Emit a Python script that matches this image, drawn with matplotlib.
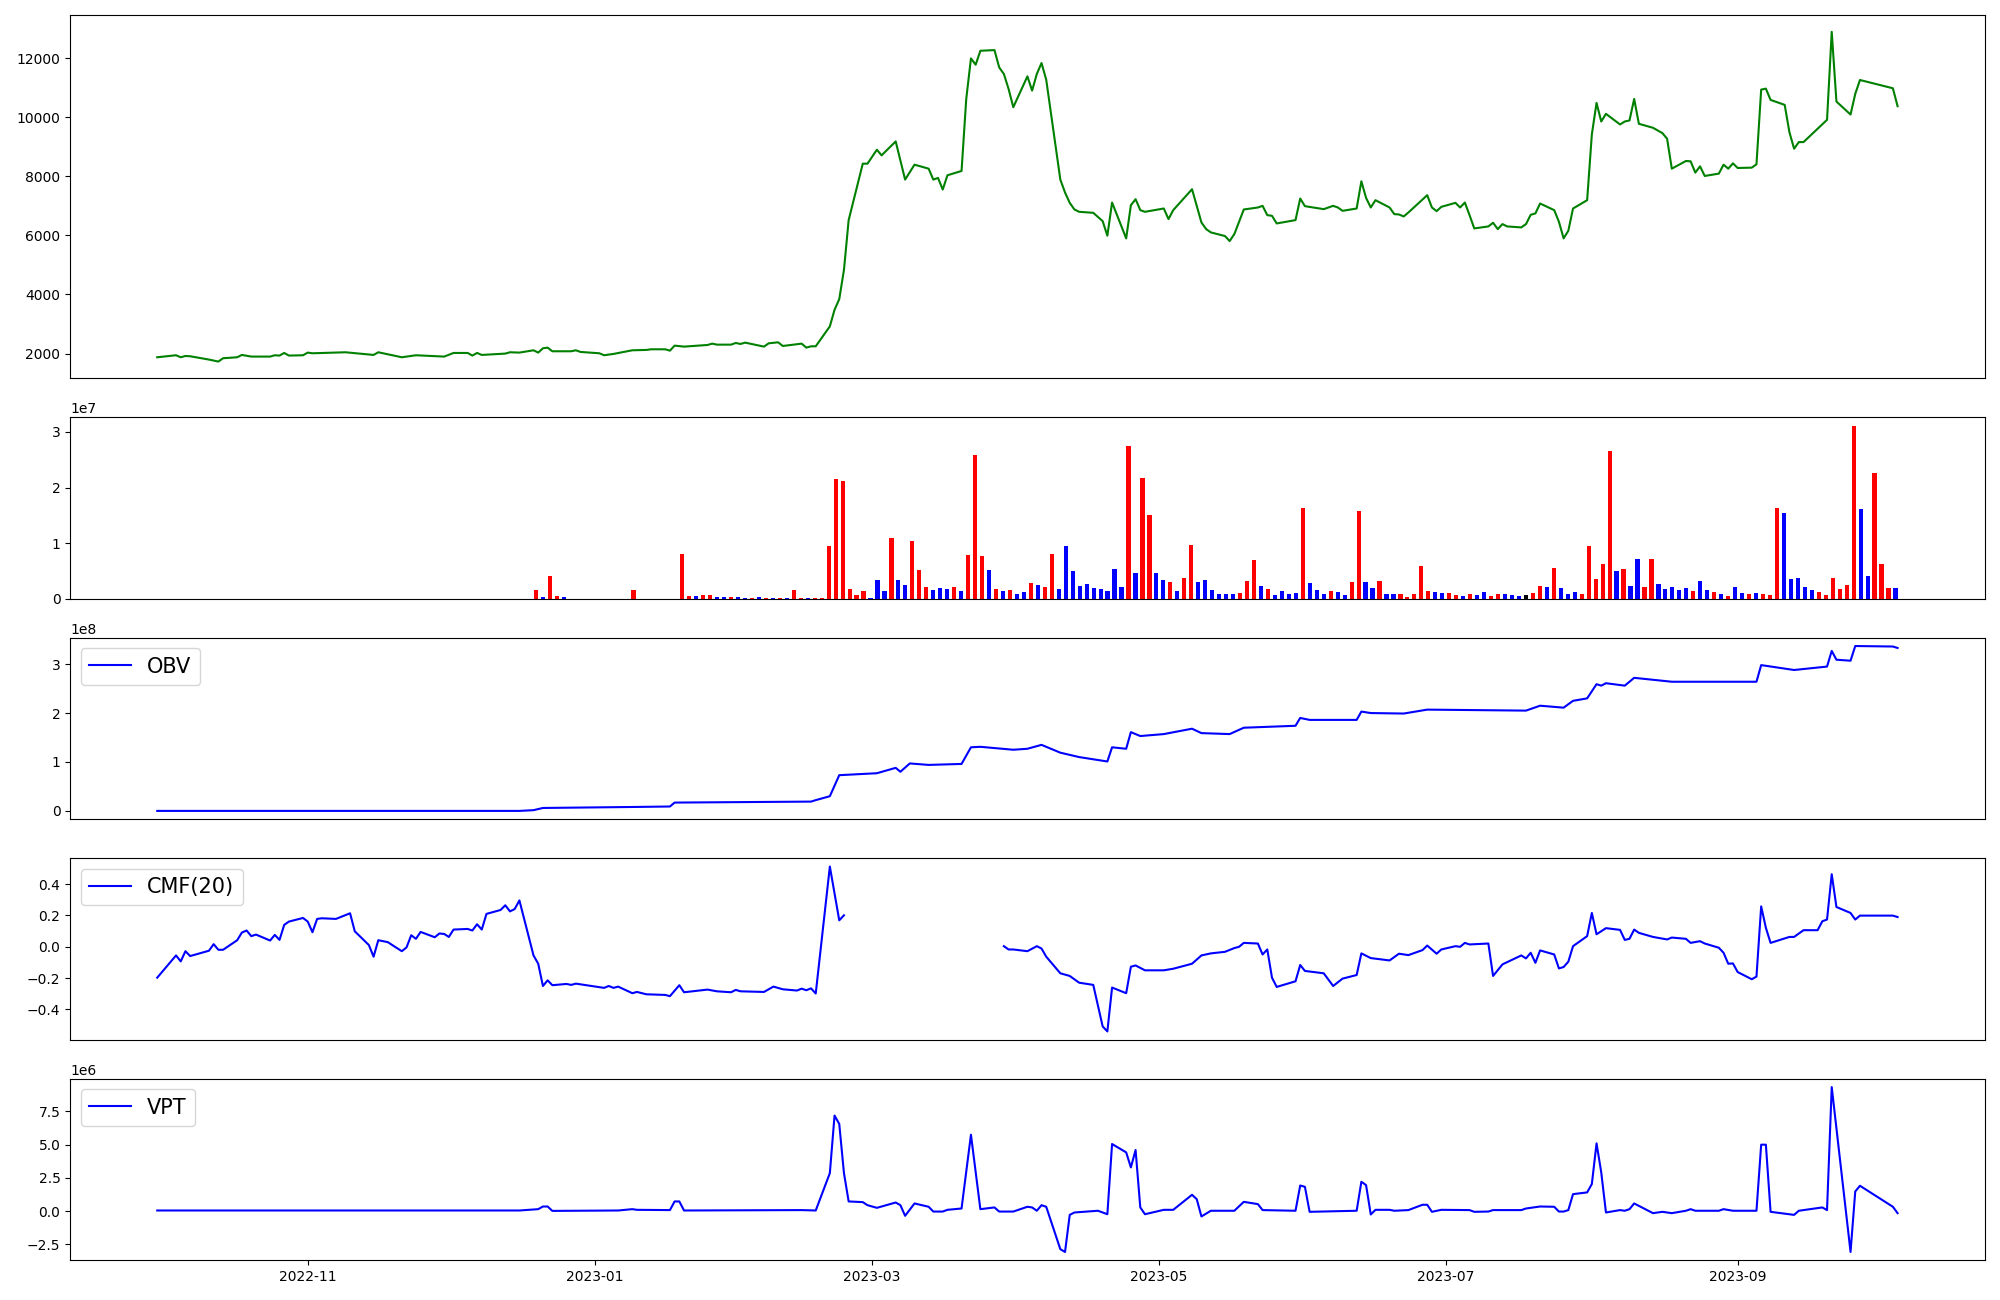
import numpy as np
import pandas as pd
import matplotlib
matplotlib.use("Agg")
import matplotlib.pyplot as plt

# ---------------- data ----------------
price_dates = [
    "2022-09-30", "2022-10-04", "2022-10-05", "2022-10-06", "2022-10-07", "2022-10-11", "2022-10-13",
    "2022-10-14", "2022-10-17", "2022-10-18", "2022-10-20", "2022-10-24", "2022-10-25", "2022-10-26",
    "2022-10-27", "2022-10-28", "2022-10-31", "2022-11-01", "2022-11-02", "2022-11-09", "2022-11-15",
    "2022-11-16", "2022-11-21", "2022-11-24", "2022-11-30", "2022-12-02", "2022-12-05", "2022-12-06",
    "2022-12-07", "2022-12-08", "2022-12-13", "2022-12-14", "2022-12-16", "2022-12-19", "2022-12-20",
    "2022-12-21", "2022-12-22", "2022-12-23", "2022-12-27", "2022-12-28", "2022-12-29", "2023-01-02",
    "2023-01-03", "2023-01-05", "2023-01-09", "2023-01-12", "2023-01-13", "2023-01-16", "2023-01-17",
    "2023-01-18", "2023-01-20", "2023-01-25", "2023-01-26", "2023-01-27", "2023-01-30", "2023-01-31",
    "2023-02-01", "2023-02-02", "2023-02-06", "2023-02-07", "2023-02-09", "2023-02-10", "2023-02-14",
    "2023-02-15", "2023-02-16", "2023-02-17", "2023-02-20", "2023-02-21", "2023-02-22", "2023-02-23",
    "2023-02-24", "2023-02-27", "2023-02-28", "2023-03-02", "2023-03-03", "2023-03-06", "2023-03-08",
    "2023-03-10", "2023-03-13", "2023-03-14", "2023-03-15", "2023-03-16", "2023-03-17", "2023-03-20",
    "2023-03-21", "2023-03-22", "2023-03-23", "2023-03-24", "2023-03-27", "2023-03-28", "2023-03-29",
    "2023-03-30", "2023-03-31", "2023-04-03", "2023-04-04", "2023-04-05", "2023-04-06", "2023-04-07",
    "2023-04-10", "2023-04-11", "2023-04-12", "2023-04-13", "2023-04-14", "2023-04-17", "2023-04-19",
    "2023-04-20", "2023-04-21", "2023-04-24", "2023-04-25", "2023-04-26", "2023-04-27", "2023-04-28",
    "2023-05-02", "2023-05-03", "2023-05-04", "2023-05-08", "2023-05-10", "2023-05-11", "2023-05-12",
    "2023-05-15", "2023-05-16", "2023-05-17", "2023-05-19", "2023-05-22", "2023-05-23", "2023-05-24",
    "2023-05-25", "2023-05-26", "2023-05-30", "2023-05-31", "2023-06-01", "2023-06-05", "2023-06-07",
    "2023-06-08", "2023-06-09", "2023-06-12", "2023-06-13", "2023-06-14", "2023-06-15", "2023-06-16",
    "2023-06-19", "2023-06-20", "2023-06-21", "2023-06-22", "2023-06-23", "2023-06-27", "2023-06-28",
    "2023-06-29", "2023-06-30", "2023-07-03", "2023-07-04", "2023-07-05", "2023-07-06", "2023-07-07",
    "2023-07-10", "2023-07-11", "2023-07-12", "2023-07-13", "2023-07-14", "2023-07-17", "2023-07-18",
    "2023-07-19", "2023-07-20", "2023-07-21", "2023-07-24", "2023-07-25", "2023-07-26", "2023-07-27",
    "2023-07-28", "2023-07-31", "2023-08-01", "2023-08-02", "2023-08-03", "2023-08-04", "2023-08-07",
    "2023-08-08", "2023-08-09", "2023-08-10", "2023-08-11", "2023-08-14", "2023-08-16", "2023-08-17",
    "2023-08-18", "2023-08-21", "2023-08-22", "2023-08-23", "2023-08-24", "2023-08-25", "2023-08-28",
    "2023-08-29", "2023-08-30", "2023-08-31", "2023-09-01", "2023-09-04", "2023-09-05", "2023-09-06",
    "2023-09-07", "2023-09-08", "2023-09-11", "2023-09-12", "2023-09-13", "2023-09-14", "2023-09-15",
    "2023-09-20", "2023-09-21", "2023-09-22", "2023-09-25", "2023-09-26", "2023-09-27", "2023-10-04",
    "2023-10-05",
]
price_close = [
    1876, 1944, 1876, 1920, 1910, 1798, 1730,
    1843, 1876, 1955, 1899, 1899, 1944, 1933,
    2022, 1933, 1944, 2034, 2011, 2045, 1955,
    2045, 1876, 1944, 1899, 2022, 2022, 1933,
    2022, 1955, 2000, 2045, 2034, 2112, 2034,
    2180, 2202, 2079, 2079, 2112, 2056, 2011,
    1944, 1989, 2112, 2124, 2146, 2146, 2100,
    2270, 2236, 2292, 2337, 2303, 2303, 2360,
    2326, 2371, 2236, 2348, 2382, 2258, 2337,
    2202, 2247, 2247, 2921, 3483, 3843, 4831,
    6517, 8427, 8427, 8899, 8708, 9180, 7888,
    8393, 8258, 7888, 7944, 7551, 8034, 8180,
    10618, 11989, 11775, 12247, 12270, 11685, 11461,
    10955, 10337, 11382, 10899, 11461, 11832, 11270,
    7888, 7450, 7101, 6876, 6798, 6764, 6483,
    5989, 7112, 5899, 7022, 7225, 6854, 6798,
    6910, 6551, 6854, 7562, 6438, 6213, 6101,
    5978, 5809, 6045, 6876, 6944, 7000, 6685,
    6663, 6404, 6517, 7247, 6989, 6888, 7000,
    6944, 6831, 6910, 7831, 7270, 6944, 7191,
    6944, 6719, 6708, 6640, 6775, 7360, 6944,
    6820, 6966, 7101, 6944, 7112, 6685, 6236,
    6303, 6427, 6213, 6382, 6303, 6270, 6382,
    6697, 6742, 7079, 6854, 6461, 5899, 6157,
    6910, 7191, 9416, 10483, 9854, 10113, 9753,
    9854, 9888, 10618, 9776, 9641, 9461, 9270,
    8258, 8517, 8506, 8124, 8337, 8011, 8090,
    8393, 8258, 8438, 8281, 8292, 8405, 10933,
    10966, 10584, 10416, 9494, 8933, 9157, 9157,
    9910, 12888, 10528, 10090, 10787, 11258, 10978,
    10371,
]

# daily volume (millions of shares), one value per trading session, 2022-09-30 .. 2023-10-05
volume_millions = [
    # 2022-09-30 .. 2022-12-16 : no visible volume (54 sessions)
    0.0, 0.0, 0.0, 0.0, 0.0, 0.0, 0.0, 0.0, 0.0, 0.0,
    0.0, 0.0, 0.0, 0.0, 0.0, 0.0, 0.0, 0.0, 0.0, 0.0,
    0.0, 0.0, 0.0, 0.0, 0.0, 0.0, 0.0, 0.0, 0.0, 0.0,
    0.0, 0.0, 0.0, 0.0, 0.0, 0.0, 0.0, 0.0, 0.0, 0.0,
    0.0, 0.0, 0.0, 0.0, 0.0, 0.0, 0.0, 0.0, 0.0, 0.0,
    0.0, 0.0, 0.0, 0.0,
    # Dec
    1.5, 0.2, 4.0, 0.42, 0.2, 0.0, 0.0, 0.0, 0.0,
    # Jan
    0.0, 0.0, 0.0, 0.0, 0.0, 1.5, 0.0, 0.0, 0.0, 0.0, 0.0, 0.0, 8.0, 0.4, 0.4, 0.6, 0.6, 0.25, 0.25, 0.25,
    # Feb
    0.25, 0.1, 0.1, 0.2, 0.05, 0.05, 0.05, 0.05, 1.5, 0.1, 0.1, 0.05, 0.1, 9.4, 21.6, 21.1, 1.7, 0.6, 1.3, 0.1,
    # Mar
    3.3, 1.3, 11.0, 3.3, 2.4, 10.3, 5.1, 2.0, 1.5, 1.9, 1.7, 2.0, 1.3, 7.8, 25.9, 7.6, 5.1, 1.7, 1.3, 1.5, 0.8, 1.1,
    # Apr
    2.8, 2.4, 2.0, 8.0, 1.7, 9.4, 4.9, 2.2, 2.6, 1.9, 1.7, 1.3, 5.3, 2.0, 27.5, 4.7, 21.8, 15.1, 4.7, 3.3,
    # May
    2.9, 1.3, 3.7, 9.6, 2.9, 3.3, 1.5, 0.8, 0.8, 0.8, 1.0, 3.1, 6.9, 2.2, 1.7, 0.6, 1.3, 0.8, 1.0, 16.4,
    # Jun
    2.8, 1.5, 0.8, 1.3, 1.1, 0.6, 2.9, 15.7, 2.9, 1.9, 3.1, 0.8, 0.8, 0.8, 0.2, 0.8, 5.8, 1.3, 1.1, 1.0, 1.0,
    # Jul
    0.6, 0.4, 0.8, 0.6, 1.1, 0.4, 0.8, 0.8, 0.6, 0.4, 0.6, 1.0, 2.2, 2.0, 5.6, 1.9, 0.8, 1.1, 0.8, 9.4, 3.5,
    # Aug
    6.3, 26.6, 4.9, 5.3, 2.2, 7.1, 2.0, 7.1, 2.6, 1.7, 2.0, 1.5, 1.9, 1.3, 3.1, 1.5, 1.1, 0.8, 0.4, 2.0, 1.0, 0.8,
    # Sep
    1.0, 0.8, 0.6, 16.4, 15.5, 3.5, 3.7, 2.0, 1.5, 1.1, 0.6, 3.8, 1.7, 2.4, 31.1, 16.2, 4.0, 22.7, 6.3,
    # Oct
    1.9, 1.9,
]
# u = up day, d = down day, n = unchanged
volume_direction_by_month = [
    "n " * 54,
    "u d u u d n n n n",
    "n n n n n u n n n n n n u u d u u d d u",
    "d d u d u d u d u u d u u u u u u u u d",
    "d d u d d u u u d d d u d u u u d u d u d d",
    "u d u u d d d d d d d d d d u d u u d d",
    "u d u u d d d d d d u u u d u d d d d u",
    "d d d u d d u u d d u d d u u u u u d d u",
    "u d u d d u u d d d n u u d u d d d u u u",
    "u u d u d d u u d d d d d u d d u d u d d u",
    "d u u u d d d d d u u u u u u d d u u",
    "u d",
]

obv_dates = [
    "2022-09-30", "2022-12-16", "2022-12-19", "2022-12-21", "2023-01-09", "2023-01-17", "2023-01-18",
    "2023-02-16", "2023-02-17", "2023-02-20", "2023-02-22", "2023-02-24", "2023-03-02", "2023-03-06",
    "2023-03-07", "2023-03-09", "2023-03-13", "2023-03-20", "2023-03-22", "2023-03-24", "2023-03-31",
    "2023-04-03", "2023-04-06", "2023-04-10", "2023-04-14", "2023-04-20", "2023-04-21", "2023-04-24",
    "2023-04-25", "2023-04-27", "2023-05-02", "2023-05-08", "2023-05-10", "2023-05-16", "2023-05-19",
    "2023-05-30", "2023-05-31", "2023-06-02", "2023-06-12", "2023-06-13", "2023-06-15", "2023-06-22",
    "2023-06-27", "2023-07-18", "2023-07-21", "2023-07-26", "2023-07-28", "2023-07-31", "2023-08-02",
    "2023-08-03", "2023-08-04", "2023-08-08", "2023-08-10", "2023-08-18", "2023-09-05", "2023-09-06",
    "2023-09-13", "2023-09-20", "2023-09-21", "2023-09-22", "2023-09-25", "2023-09-26", "2023-10-04",
    "2023-10-05",
]
obv_values = [  # x 1e8
    0.0, 0.0, 0.015, 0.06, 0.08, 0.09, 0.17,
    0.19, 0.22, 0.30, 0.73, 0.74, 0.77, 0.88,
    0.80, 0.97, 0.94, 0.96, 1.30, 1.31, 1.25,
    1.27, 1.35, 1.19, 1.10, 1.01, 1.30, 1.27,
    1.61, 1.53, 1.57, 1.68, 1.59, 1.57, 1.70,
    1.74, 1.90, 1.86, 1.86, 2.03, 2.00, 1.99,
    2.07, 2.05, 2.15, 2.11, 2.25, 2.30, 2.59,
    2.56, 2.61, 2.56, 2.72, 2.64, 2.64, 2.98,
    2.88, 2.95, 3.27, 3.09, 3.07, 3.37, 3.36,
    3.33,
]

cmf_dates = [
    "2022-09-30", "2022-10-04", "2022-10-05", "2022-10-06", "2022-10-07", "2022-10-11", "2022-10-12",
    "2022-10-13", "2022-10-14", "2022-10-17", "2022-10-18", "2022-10-19", "2022-10-20", "2022-10-21",
    "2022-10-24", "2022-10-25", "2022-10-26", "2022-10-27", "2022-10-28", "2022-10-31", "2022-11-01",
    "2022-11-02", "2022-11-03", "2022-11-04", "2022-11-07", "2022-11-10", "2022-11-11", "2022-11-14",
    "2022-11-15", "2022-11-16", "2022-11-18", "2022-11-21", "2022-11-22", "2022-11-23", "2022-11-24",
    "2022-11-25", "2022-11-28", "2022-11-29", "2022-11-30", "2022-12-01", "2022-12-02", "2022-12-05",
    "2022-12-06", "2022-12-07", "2022-12-08", "2022-12-09", "2022-12-12", "2022-12-13", "2022-12-14",
    "2022-12-15", "2022-12-16", "2022-12-19", "2022-12-20", "2022-12-21", "2022-12-22", "2022-12-23",
    "2022-12-26", "2022-12-27", "2022-12-28", "2023-01-03", "2023-01-04", "2023-01-05", "2023-01-06",
    "2023-01-09", "2023-01-10", "2023-01-12", "2023-01-16", "2023-01-17", "2023-01-19", "2023-01-20",
    "2023-01-25", "2023-01-27", "2023-01-30", "2023-01-31", "2023-02-01", "2023-02-06", "2023-02-08",
    "2023-02-10", "2023-02-13", "2023-02-14", "2023-02-15", "2023-02-16", "2023-02-17", "2023-02-20",
    "2023-02-22", "2023-02-23", "2023-02-24",
    "2023-03-29", "2023-03-30", "2023-03-31", "2023-04-03", "2023-04-05", "2023-04-06", "2023-04-07",
    "2023-04-10", "2023-04-12", "2023-04-14", "2023-04-17", "2023-04-19", "2023-04-20", "2023-04-21",
    "2023-04-24", "2023-04-25", "2023-04-26", "2023-04-28", "2023-05-02", "2023-05-04", "2023-05-08",
    "2023-05-10", "2023-05-12", "2023-05-15", "2023-05-17", "2023-05-18", "2023-05-19", "2023-05-22",
    "2023-05-23", "2023-05-24", "2023-05-25", "2023-05-26", "2023-05-30", "2023-05-31", "2023-06-01",
    "2023-06-05", "2023-06-07", "2023-06-09", "2023-06-12", "2023-06-13", "2023-06-15", "2023-06-19",
    "2023-06-21", "2023-06-23", "2023-06-26", "2023-06-27", "2023-06-29", "2023-06-30", "2023-07-03",
    "2023-07-04", "2023-07-05", "2023-07-06", "2023-07-10", "2023-07-11", "2023-07-13", "2023-07-17",
    "2023-07-18", "2023-07-19", "2023-07-20", "2023-07-21", "2023-07-24", "2023-07-25", "2023-07-26",
    "2023-07-27", "2023-07-28", "2023-07-31", "2023-08-01", "2023-08-02", "2023-08-04", "2023-08-07",
    "2023-08-08", "2023-08-09", "2023-08-10", "2023-08-11", "2023-08-14", "2023-08-17", "2023-08-18",
    "2023-08-21", "2023-08-22", "2023-08-24", "2023-08-25", "2023-08-28", "2023-08-29", "2023-08-30",
    "2023-08-31", "2023-09-01", "2023-09-04", "2023-09-05", "2023-09-06", "2023-09-07", "2023-09-08",
    "2023-09-12", "2023-09-13", "2023-09-15", "2023-09-18", "2023-09-19", "2023-09-20", "2023-09-21",
    "2023-09-22", "2023-09-25", "2023-09-26", "2023-09-27", "2023-10-04", "2023-10-05",
]
cmf_values = [
    -0.197, -0.055, -0.093, -0.028, -0.059, -0.025, 0.017,
    -0.019, -0.019, 0.042, 0.091, 0.104, 0.068, 0.078,
    0.040, 0.076, 0.044, 0.140, 0.161, 0.184, 0.161,
    0.093, 0.178, 0.182, 0.178, 0.214, 0.099, 0.011,
    -0.063, 0.042, 0.030, -0.028, -0.004, 0.074, 0.051,
    0.095, 0.061, 0.085, 0.082, 0.063, 0.110, 0.114,
    0.104, 0.144, 0.110, 0.210, 0.235, 0.265, 0.226,
    0.241, 0.296, -0.055, -0.108, -0.250, -0.214, -0.245,
    -0.237, -0.243, -0.235, -0.262, -0.250, -0.262, -0.254,
    -0.296, -0.288, -0.303, -0.307, -0.315, -0.245, -0.290,
    -0.273, -0.284, -0.290, -0.275, -0.284, -0.288, -0.254,
    -0.271, -0.279, -0.267, -0.277, -0.265, -0.298, 0.512,
    0.169, 0.201, np.nan,
    0.004, -0.017, -0.017, -0.028, 0.004, -0.011, -0.063,
    -0.169, -0.186, -0.229, -0.243, -0.508, -0.540, -0.260,
    -0.296, -0.127, -0.119, -0.150, -0.150, -0.140, -0.108,
    -0.055, -0.042, -0.032, -0.008, 0.000, 0.025, 0.021,
    -0.049, -0.017, -0.197, -0.256, -0.220, -0.116, -0.154,
    -0.169, -0.250, -0.203, -0.180, -0.042, -0.072, -0.087,
    -0.044, -0.053, -0.021, 0.008, -0.044, -0.017, 0.004,
    0.000, 0.025, 0.015, 0.021, -0.186, -0.112, -0.055,
    -0.074, -0.038, -0.102, -0.023, -0.049, -0.138, -0.129,
    -0.095, 0.004, 0.068, 0.216, 0.080, 0.119, 0.108,
    0.044, 0.051, 0.110, 0.089, 0.063, 0.047, 0.059,
    0.051, 0.025, 0.036, 0.021, -0.006, -0.038, -0.108,
    -0.106, -0.161, -0.207, -0.190, 0.258, 0.121, 0.025,
    0.063, 0.063, 0.106, 0.106, 0.163, 0.174, 0.463,
    0.254, 0.216, 0.174, 0.199, 0.199, 0.190,
]

vpt_dates = [
    "2022-09-30", "2022-12-16", "2022-12-20", "2022-12-21", "2022-12-22", "2022-12-23", "2023-01-06",
    "2023-01-09", "2023-01-10", "2023-01-17", "2023-01-18", "2023-01-19", "2023-01-20", "2023-02-14",
    "2023-02-17", "2023-02-20", "2023-02-21", "2023-02-22", "2023-02-23", "2023-02-24", "2023-02-27",
    "2023-02-28", "2023-03-02", "2023-03-06", "2023-03-07", "2023-03-08", "2023-03-10", "2023-03-13",
    "2023-03-14", "2023-03-16", "2023-03-17", "2023-03-20", "2023-03-22", "2023-03-24", "2023-03-27",
    "2023-03-28", "2023-03-31", "2023-04-03", "2023-04-04", "2023-04-05", "2023-04-06", "2023-04-07",
    "2023-04-10", "2023-04-11", "2023-04-12", "2023-04-13", "2023-04-18", "2023-04-20", "2023-04-21",
    "2023-04-24", "2023-04-25", "2023-04-26", "2023-04-27", "2023-04-28", "2023-05-02", "2023-05-04",
    "2023-05-08", "2023-05-09", "2023-05-10", "2023-05-12", "2023-05-17", "2023-05-19", "2023-05-22",
    "2023-05-23", "2023-05-30", "2023-05-31", "2023-06-01", "2023-06-02", "2023-06-12", "2023-06-13",
    "2023-06-14", "2023-06-15", "2023-06-16", "2023-06-19", "2023-06-20", "2023-06-23", "2023-06-26",
    "2023-06-27", "2023-06-28", "2023-06-30", "2023-07-06", "2023-07-07", "2023-07-10", "2023-07-11",
    "2023-07-17", "2023-07-18", "2023-07-21", "2023-07-24", "2023-07-25", "2023-07-26", "2023-07-27",
    "2023-07-28", "2023-07-31", "2023-08-01", "2023-08-02", "2023-08-03", "2023-08-04", "2023-08-07",
    "2023-08-08", "2023-08-09", "2023-08-10", "2023-08-14", "2023-08-16", "2023-08-18", "2023-08-21",
    "2023-08-22", "2023-08-23", "2023-08-28", "2023-08-29", "2023-08-31", "2023-09-05", "2023-09-06",
    "2023-09-07", "2023-09-08", "2023-09-13", "2023-09-14", "2023-09-19", "2023-09-20", "2023-09-21",
    "2023-09-25", "2023-09-26", "2023-09-27", "2023-10-04", "2023-10-05",
]
vpt_values = [  # x 1e6
    0.05, 0.05, 0.15, 0.35, 0.35, 0.02, 0.05,
    0.15, 0.10, 0.08, 0.73, 0.73, 0.05, 0.08,
    0.05, 2.86, 7.19, 6.56, 2.86, 0.73, 0.68,
    0.45, 0.25, 0.65, 0.45, -0.35, 0.58, 0.33,
    -0.03, -0.03, 0.10, 0.20, 5.75, 0.15, 0.28,
    -0.03, -0.03, 0.33, 0.28, 0.03, 0.45, 0.33,
    -2.86, -3.07, -0.28, -0.10, 0.03, -0.23, 5.05,
    4.42, 3.29, 4.60, 0.28, -0.23, 0.10, 0.10,
    1.23, 0.90, -0.40, 0.03, 0.03, 0.70, 0.53,
    0.08, 0.03, 1.93, 1.83, -0.05, 0.03, 2.21,
    1.96, -0.25, 0.10, 0.10, 0.03, 0.08, 0.48,
    0.48, -0.05, 0.10, 0.08, -0.05, -0.03, 0.08,
    0.08, 0.20, 0.35, 0.33, -0.03, -0.03, 0.08,
    1.28, 1.41, 2.04, 5.10, 2.91, -0.10, 0.08,
    0.03, 0.15, 0.58, -0.15, -0.05, -0.15, 0.03,
    0.15, 0.03, 0.03, 0.15, 0.03, 0.03, 5.00,
    5.00, -0.05, -0.28, 0.03, 0.28, 0.08, 9.33,
    -3.07, 1.48, 1.91, 0.33, -0.15,
]

direction_colors = {"u": "red", "d": "blue", "n": "black"}

# ---------------- figure ----------------
fig = plt.figure(figsize=(20, 13), dpi=100)
gs = fig.add_gridspec(5, 1, height_ratios=[2, 1, 1, 1, 1],
                      left=0.0351, right=0.9923, top=0.9882, bottom=0.0306, hspace=0.18)
ax1 = fig.add_subplot(gs[0])
ax2 = fig.add_subplot(gs[1])
ax3 = fig.add_subplot(gs[2], sharex=ax1)
ax4 = fig.add_subplot(gs[3], sharex=ax1)
ax5 = fig.add_subplot(gs[4], sharex=ax1)

# price
ax1.plot(pd.to_datetime(price_dates), price_close, color="green")

# volume bars, one per session (session index on x)
directions = " ".join(volume_direction_by_month).split()
n = min(len(volume_millions), len(directions))
vol = np.array(volume_millions[:n]) * 1e6
cols = [direction_colors[c] for c in directions[:n]]
ax2.bar(np.arange(n), vol, width=0.6, color=cols)

# OBV
ax3.plot(pd.to_datetime(obv_dates), np.array(obv_values) * 1e8, color="blue", label="OBV")
ax3.legend(loc="upper left", fontsize=15)

# CMF
ax4.plot(pd.to_datetime(cmf_dates), cmf_values, color="blue", label="CMF(20)")
ax4.legend(loc="upper left", fontsize=15)

# VPT
ax5.plot(pd.to_datetime(vpt_dates), np.array(vpt_values) * 1e6, color="blue", label="VPT")
ax5.legend(loc="upper left", fontsize=15)

for ax in (ax1, ax2, ax3, ax4):
    ax.tick_params(axis="x", which="both", bottom=False, labelbottom=False)

fig.savefig("out.png", dpi=100)
